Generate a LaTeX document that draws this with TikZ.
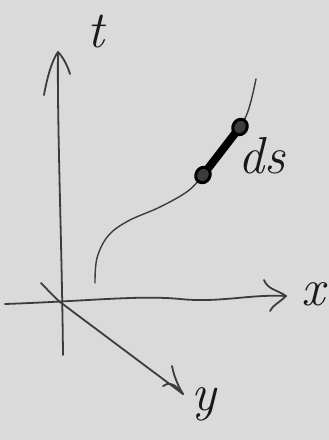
\documentclass[tikz,border=0pt]{standalone}
\usepackage{fontspec}
\begin{document}
\definecolor{bg}{RGB}{218,218,218}
\definecolor{ink}{RGB}{60,60,60}
\begin{tikzpicture}[x=1pt,y=-1pt,line cap=round,line join=round,
  ax/.style={draw=ink,line width=1.8pt},
  lbl/.style={inner sep=0pt,font=\fontsize{52}{56}\selectfont\itshape,text=black!90}]
\fill[bg] (0,0) rectangle (329,440);
\useasboundingbox (0,0) rectangle (329,440);
% axes coordinates
\coordinate (O) at (60,302);
\coordinate (tTop) at (58,52);
\coordinate (tBot) at (63,355);
\coordinate (tA1) at (44,95);
\coordinate (tA2) at (70,74);
\coordinate (xL) at (5,304);
\coordinate (xR) at (286,296);
\coordinate (xA1) at (264,280);
\coordinate (xA2) at (270,311);
\coordinate (yB) at (41,283);
\coordinate (yE) at (183,394);
\coordinate (yA1) at (172,366);
\coordinate (yA2) at (163,386);
% t axis
\draw[ax] (tBot) .. controls (62,250) and (57,120) .. (tTop);
\draw[ax] (tA1) .. controls (47,78) and (52,60) .. (tTop) .. controls (62,56) and (67,64) .. (tA2);
% x axis
\draw[ax] (xL) .. controls (90,301) and (140,295) .. (180,299) .. controls (220,303) and (250,294) .. (xR);
\draw[ax] (xA1) .. controls (268,290) and (278,290) .. (xR) .. controls (280,302) and (272,306) .. (xA2);
% y axis
\draw[ax] (yB) .. controls (46,288) and (53,296) .. (O) -- (yE);
\draw[ax] (yA1) .. controls (174,376) and (178,386) .. (yE);
\draw[ax] (yA2) .. controls (168,382) and (175,383) .. (yE);
% curve
\coordinate (c0) at (95,283);
\coordinate (dsA) at (203,175);
\coordinate (dsB) at (240,127);
\coordinate (c9) at (256,79);
\draw[ink,line width=1.4pt] plot[smooth,tension=0.6] coordinates {(c0) (97,258) (108,236) (128,221) (160,207) (188,191) (dsA)};
\draw[ink,line width=1.4pt] (dsA) -- (dsB);
\draw[ink,line width=1.4pt] plot[smooth,tension=0.6] coordinates {(dsB) (247,114) (252,97) (c9)};
% ds element
\draw[black,line width=8pt] (dsA) -- (dsB);
\draw[black,line width=3pt,fill=ink] (dsA) circle[x radius=7,y radius=8,rotate=-30];
\draw[black,line width=3pt,fill=ink] (dsB) circle[x radius=7,y radius=8,rotate=-30];
% labels
\node[lbl] (tl) at (96,32) {t};
\node[lbl] (xl) at (313,294) {x};
\node[lbl] (yl) at (204,404) {y};
\node[lbl] (dsl) at (262,156) {ds};
\end{tikzpicture}
\end{document}
